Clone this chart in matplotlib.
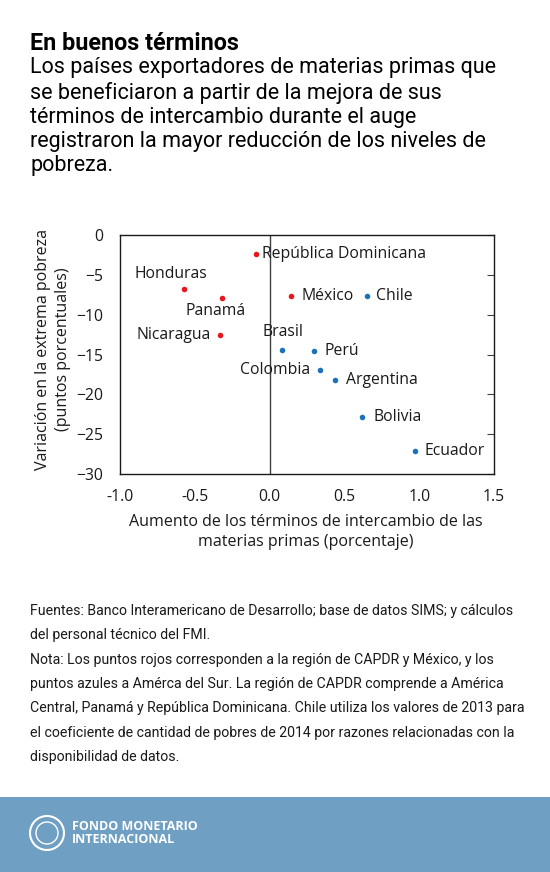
import matplotlib
matplotlib.use("Agg")
import matplotlib.pyplot as plt
from matplotlib.patches import Rectangle, Ellipse

# data
countries = ["República Dominicana", "Honduras", "Panamá", "Nicaragua", "México",
             "Chile", "Brasil", "Perú", "Colombia", "Argentina", "Bolivia", "Ecuador"]
terms_change = [-0.09, -0.57, -0.32, -0.33, 0.14, 0.65, 0.08, 0.30, 0.34, 0.44, 0.62, 0.97]
poverty_change = [-2.4, -6.8, -7.9, -12.5, -7.6, -7.65, -14.4, -14.6, -16.9, -18.2, -22.8, -27.1]
region = ["capdr", "capdr", "capdr", "capdr", "capdr",
          "sur", "sur", "sur", "sur", "sur", "sur", "sur"]
x_ticks = [-1.0, -0.5, 0.0, 0.5, 1.0, 1.5]
y_ticks = [0, -5, -10, -15, -20, -25, -30]

# label placement (pixel offsets, alignment)
label_pos = {
    "República Dominicana": (6, 0, "left"),
    "Honduras": (-13, 15, "center"),
    "Panamá": (-6, -13, "center"),
    "Nicaragua": (-9, 0, "right"),
    "México": (11, 0, "left"),
    "Chile": (9, 0, "left"),
    "Brasil": (1, 18, "center"),
    "Perú": (10, 0, "left"),
    "Colombia": (-10, 0, "right"),
    "Argentina": (11, 0, "left"),
    "Bolivia": (11, 0, "left"),
    "Ecuador": (10, 0, "left"),
}
colors = {"capdr": "#e8161c", "sur": "#1a72bb"}

W, H = 550, 872
fig = plt.figure(figsize=(W / 100, H / 100), dpi=100)
fig.patch.set_facecolor("white")

chart_font = "Open Sans"
text_font = "Roboto"

fig.text(30 / W, 1 - 43 / H, "En buenos términos", fontsize=16.8, fontweight="bold",
         family=text_font, va="center", ha="left")
subtitle = ("Los países exportadores de materias primas que\n"
            "se beneficiaron a partir de la mejora de sus\n"
            "términos de intercambio durante el auge\n"
            "registraron la mayor reducción de los niveles de\n"
            "pobreza.")
fig.text(30 / W, 1 - 57.5 / H, subtitle, fontsize=15.5, family=text_font,
         va="top", ha="left", linespacing=1.2)

ax = fig.add_axes([120 / W, 1 - 474 / H, 374 / W, 239 / H])
ax.set_xlim(-1.0, 1.5)
ax.set_ylim(-30, 0)
ax.axvline(0, color="#404040", lw=1.0, zorder=1)

for name, x, y, r in zip(countries, terms_change, poverty_change, region):
    ax.scatter(x, y, s=16, color=colors[r], zorder=3, linewidths=0)
    dx, dy, ha = label_pos[name]
    ax.annotate(name, (x, y), xytext=(dx, dy), textcoords="offset pixels",
                ha=ha, va="center", fontsize=11.3, family=chart_font, color="#1a1a1a")

ax.set_xticks(x_ticks)
ax.set_xticklabels(["%.1f" % v for v in x_ticks])
ax.set_yticks(y_ticks)
ax.set_yticklabels([("%d" % v).replace("-", "\u2212") for v in y_ticks])
ax.tick_params(axis="x", length=0, pad=11, labelsize=11.3)
ax.tick_params(axis="y", which="both", left=False, right=True, direction="in",
               length=5, pad=12, labelsize=11.3, color="#404040")
ax.tick_params(axis="y", labelleft=True, labelright=False)
for lab in ax.get_xticklabels() + ax.get_yticklabels():
    lab.set_family(chart_font)
    lab.set_color("#1a1a1a")
for sp in ax.spines.values():
    sp.set_color("#1a1a1a")
    sp.set_linewidth(1.0)

fig.text(53 / W, 1 - 349 / H, "Variación en la extrema pobreza\n(puntos porcentuales)",
         rotation=90, ha="center", va="center", fontsize=11.5, family=chart_font,
         color="#1a1a1a", linespacing=1.4)
fig.text(306 / W, 1 - 532 / H, "Aumento de los términos de intercambio de las\nmaterias primas (porcentaje)",
         ha="center", va="center", fontsize=11.5, family=chart_font,
         color="#1a1a1a", linespacing=1.4)

notes = ("Fuentes: Banco Interamericano de Desarrollo; base de datos SIMS; y cálculos\n"
         "del personal técnico del FMI.\n"
         "Nota: Los puntos rojos corresponden a la región de CAPDR y México, y los\n"
         "puntos azules a Amérca del Sur. La región de CAPDR comprende a América\n"
         "Central, Panamá y República Dominicana. Chile utiliza los valores de 2013 para\n"
         "el coeficiente de cantidad de pobres de 2014 por razones relacionadas con la\n"
         "disponibilidad de datos.")
fig.text(30 / W, 1 - 604 / H, notes, fontsize=10.2, family=text_font,
         va="top", ha="left", linespacing=1.94, color="#1a1a1a")

# footer band
fig.patches.append(Rectangle((0, 0), 1, 75 / H, transform=fig.transFigure,
                             facecolor="#6f9fc2", edgecolor="none", zorder=0))
cx, cy = 47 / W, 1 - 833 / H
fig.patches.append(Ellipse((cx, cy), 34 / W, 34 / H, transform=fig.transFigure,
                           facecolor="none", edgecolor="white", lw=1.5, zorder=1))
fig.patches.append(Ellipse((cx, cy), 22 / W, 22 / H, transform=fig.transFigure,
                           facecolor="none", edgecolor="white", lw=1.0, zorder=1))
fig.text(72 / W, 1 - 833 / H, "FONDO MONETARIO\nINTERNACIONAL", fontsize=9,
         fontweight="bold", family="Open Sans", color="white", va="center",
         ha="left", linespacing=1.0)

fig.savefig("out.png", dpi=100)
